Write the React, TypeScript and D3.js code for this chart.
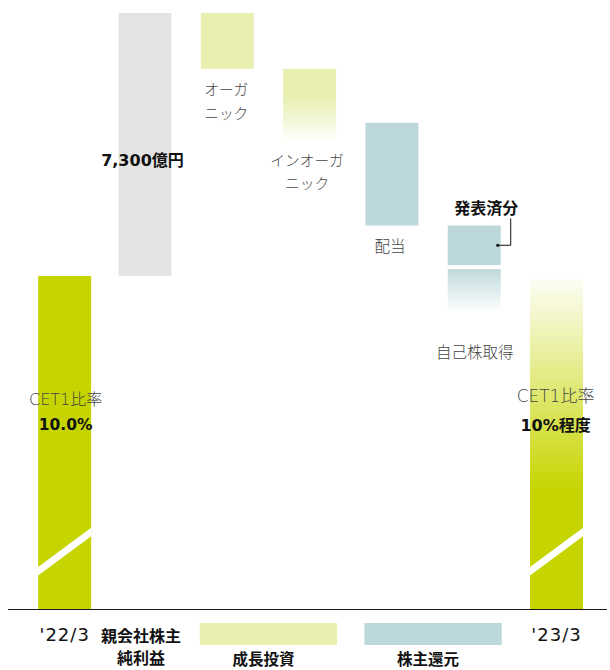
import React from "react";
import * as d3 from "d3";

// ---- data (illustrative, 億円) ----
const categories = ["'22/3", "親会社株主純利益", "オーガニック", "インオーガニック", "配当", "自己株取得", "'23/3"];
const startCet1 = 9250;
const netIncome = 7300;
const organicInvest = 1550;
const inorganicInvest = 1500;
const inorganicUpside = 550;
const dividend = 2850;
const buybackAnnounced = 1100;
const buybackAdditional = 1200;
const endCet1 = 9150;
const breakLow = 1050;
const breakHigh = 2140;
const netIncomeLabel = "7,300億円";
const ratioLabel = "CET1比率";
const ratioStart = "10.0%";
const ratioEnd = "10%程度";
const organicLines = ["オーガ", "ニック"];
const inorganicLines = ["インオーガ", "ニック"];
const dividendLabel = "配当";
const buybackLabel = "自己株取得";
const announcedLabel = "発表済分";
const netIncomeAxis = ["親会社株主", "純利益"];
const legendItems = ["成長投資", "株主還元"];

const W = 610;
const H = 670;
const GREEN = "#c6d500";
const LIGHT_GREEN = "#e8efb0";
const TEAL = "#bcd8da";
const GREY = "#e4e4e4";

const jp = "'Noto Sans CJK JP', sans-serif";
const mixed = "'DejaVu Sans', 'Noto Sans CJK JP', sans-serif";

export default function App() {
  const x = d3
    .scaleBand<string>()
    .domain(categories)
    .range([21.5, 597.7])
    .paddingInner(0.356)
    .paddingOuter(0.178);
  const yMax = startCet1 + netIncome;
  const y = d3.scaleLinear().domain([0, yMax]).range([609, 13]);
  const bw = x.bandwidth();
  const cx = (c: string) => (x(c) as number) + bw / 2;

  const gTop = yMax;
  const orgBottom = gTop - organicInvest;
  const inorgBottom = orgBottom - inorganicInvest;
  const divBottom = inorgBottom - dividend;
  const bbBottom = divBottom - buybackAnnounced;
  const bb2Bottom = bbBottom - buybackAdditional;
  const gap = 4;

  const [cStart, cNet, cOrg, cInorg, cDiv, cBuy, cEnd] = categories;

  const stripe = (c: string) => {
    const x0 = x(c) as number;
    const x1 = x0 + bw;
    const ya = y(breakLow);
    const yb = y(breakHigh);
    const h = 4.2;
    return `${x0},${ya - h} ${x1},${yb - h} ${x1},${yb + h} ${x0},${ya + h}`;
  };

  const annY = (y(divBottom) + y(bbBottom)) / 2;
  const annRight = (x(cBuy) as number) + bw;

  return (
    <svg
      width={W}
      height={H}
      style={{ position: "absolute", left: 0, top: 0, display: "block", background: "#fff" }}
    >
      <defs>
        <linearGradient id="gInorg" x1="0" y1="0" x2="0" y2="1">
          <stop offset="0" stopColor={LIGHT_GREEN} stopOpacity={1} />
          <stop offset="0.38" stopColor={LIGHT_GREEN} stopOpacity={1} />
          <stop offset="1" stopColor={LIGHT_GREEN} stopOpacity={0} />
        </linearGradient>
        <linearGradient id="gBuy" x1="0" y1="0" x2="0" y2="1">
          <stop offset="0" stopColor={TEAL} stopOpacity={0.95} />
          <stop offset="1" stopColor={TEAL} stopOpacity={0} />
        </linearGradient>
        <linearGradient id="gEnd" x1="0" y1="0" x2="0" y2="1">
          <stop offset="0" stopColor={GREEN} stopOpacity={0.04} />
          <stop offset="0.64" stopColor={GREEN} stopOpacity={1} />
          <stop offset="1" stopColor={GREEN} stopOpacity={1} />
        </linearGradient>
      </defs>

      {/* bars */}
      <rect x={(x(cStart) as number) + 2} y={y(startCet1)} width={bw} height={y(0) - y(startCet1)} fill={GREEN} />
      <rect x={x(cNet)} y={y(gTop)} width={bw} height={y(startCet1) - y(gTop)} fill={GREY} />
      <rect x={x(cOrg)} y={y(gTop)} width={bw} height={y(orgBottom) - y(gTop)} fill={LIGHT_GREEN} />
      <rect
        x={x(cInorg)}
        y={y(orgBottom)}
        width={bw}
        height={y(inorgBottom - inorganicUpside) - y(orgBottom)}
        fill="url(#gInorg)"
      />
      <rect x={x(cDiv)} y={y(inorgBottom)} width={bw} height={y(divBottom) - y(inorgBottom)} fill={TEAL} />
      <rect x={x(cBuy)} y={y(divBottom)} width={bw} height={y(bbBottom) - y(divBottom)} fill={TEAL} />
      <rect
        x={x(cBuy)}
        y={y(bbBottom) + gap}
        width={bw}
        height={y(bb2Bottom) - y(bbBottom)}
        fill="url(#gBuy)"
      />
      <rect x={x(cEnd)} y={y(endCet1)} width={bw} height={y(0) - y(endCet1)} fill="url(#gEnd)" />

      {/* axis-break stripes */}
      <g transform="translate(2,0)">
        <polygon points={stripe(cStart)} fill="#fff" />
      </g>
      <polygon points={stripe(cEnd)} fill="#fff" />

      {/* baseline */}
      <line x1={8} x2={607} y1={609.5} y2={609.5} stroke="#1a1a1a" strokeWidth={1.2} />

      {/* net income label */}
      <text
        x={cx(cNet) - 2.5}
        y={(y(gTop) + y(startCet1)) / 2 + 16.5}
        textAnchor="middle"
        dominantBaseline="central"
        fontFamily={mixed}
        fontWeight={700}
        fontSize={16}
        fill="#111"
      >
        {netIncomeLabel}
      </text>

      {/* organic */}
      {organicLines.map((t, i) => (
        <text
          key={"o" + i}
          x={cx(cOrg) - 1}
          y={y(orgBottom) + 20 + i * 23.5}
          textAnchor="middle"
          dominantBaseline="central"
          fontFamily={jp}
          fontWeight={300}
          fontSize={14.7}
          fill="#444"
        >
          {t}
        </text>
      ))}
      {inorganicLines.map((t, i) => (
        <text
          key={"i" + i}
          x={cx(cInorg) - 2.5}
          y={y(inorgBottom - inorganicUpside) + 16.5 + i * 23.5}
          textAnchor="middle"
          dominantBaseline="central"
          fontFamily={jp}
          fontWeight={300}
          fontSize={14.7}
          fill="#444"
        >
          {t}
        </text>
      ))}
      <text
        x={cx(cDiv) - 2}
        y={y(divBottom) + 19.5}
        textAnchor="middle"
        dominantBaseline="central"
        fontFamily={jp}
        fontWeight={300}
        fontSize={15.5}
        fill="#444"
      >
        {dividendLabel}
      </text>
      <text
        x={cx(cBuy) + 0.5}
        y={y(bb2Bottom) + gap + 38.7}
        textAnchor="middle"
        dominantBaseline="central"
        fontFamily={jp}
        fontWeight={300}
        fontSize={15.5}
        fill="#444"
      >
        {buybackLabel}
      </text>

      {/* announced label + leader */}
      <text
        x={cx(cBuy) + 12}
        y={y(divBottom) - 18}
        textAnchor="middle"
        dominantBaseline="central"
        fontFamily={jp}
        fontWeight={700}
        fontSize={16}
        fill="#111"
      >
        {announcedLabel}
      </text>
      <path
        d={`M${annRight - 3},${annY} H${annRight + 10} V${y(divBottom) - 7}`}
        fill="none"
        stroke="#111"
        strokeWidth={1}
      />
      <circle cx={annRight - 3} cy={annY} r={1.6} fill="#111" />

      {/* CET1 ratios */}
      <text
        x={cx(cStart) + 3}
        y={399.5}
        textAnchor="middle"
        dominantBaseline="central"
        fontFamily={mixed}
        fontWeight={300}
        fontSize={16}
        fill="#444"
      >
        {ratioLabel}
      </text>
      <text
        x={cx(cStart) + 3}
        y={425}
        textAnchor="middle"
        dominantBaseline="central"
        fontFamily={mixed}
        fontWeight={700}
        fontSize={15.5}
        fill="#111"
      >
        {ratioStart}
      </text>
      <text
        x={cx(cEnd) - 1}
        y={396}
        textAnchor="middle"
        dominantBaseline="central"
        fontFamily={mixed}
        fontWeight={300}
        fontSize={17}
        fill="#444"
      >
        {ratioLabel}
      </text>
      <text
        x={cx(cEnd) - 1}
        y={425}
        textAnchor="middle"
        dominantBaseline="central"
        fontFamily={mixed}
        fontWeight={700}
        fontSize={16}
        fill="#111"
      >
        {ratioEnd}
      </text>

      {/* bottom axis labels */}
      <text
        x={cx(cStart) + 2}
        y={634}
        textAnchor="middle"
        dominantBaseline="central"
        fontFamily={mixed}
        fontSize={18}
        letterSpacing={1}
        fill="#111"
      >
        {cStart}
      </text>
      <text
        x={cx(cEnd)}
        y={634}
        textAnchor="middle"
        dominantBaseline="central"
        fontFamily={mixed}
        fontSize={18}
        letterSpacing={1}
        fill="#111"
      >
        {cEnd}
      </text>
      {netIncomeAxis.map((t, i) => (
        <text
          key={"n" + i}
          x={cx(cNet) - 4}
          y={634.5 + i * 22}
          textAnchor="middle"
          dominantBaseline="central"
          fontFamily={jp}
          fontWeight={700}
          fontSize={16}
          fill="#111"
        >
          {t}
        </text>
      ))}

      {/* legend groups */}
      {legendItems.map((t, i) => {
        const a = i === 0 ? cOrg : cDiv;
        const b = i === 0 ? cInorg : cBuy;
        const lx0 = (x(a) as number) - 1;
        const lx1 = (x(b) as number) + bw + 1;
        return (
          <g key={"l" + i}>
            <rect x={lx0} y={623} width={lx1 - lx0} height={22} fill={i === 0 ? LIGHT_GREEN : TEAL} />
            <text
              x={(lx0 + lx1) / 2 - 5}
              y={658}
              textAnchor="middle"
              dominantBaseline="central"
              fontFamily={jp}
              fontWeight={700}
              fontSize={15.5}
              fill="#111"
            >
              {t}
            </text>
          </g>
        );
      })}
    </svg>
  );
}
